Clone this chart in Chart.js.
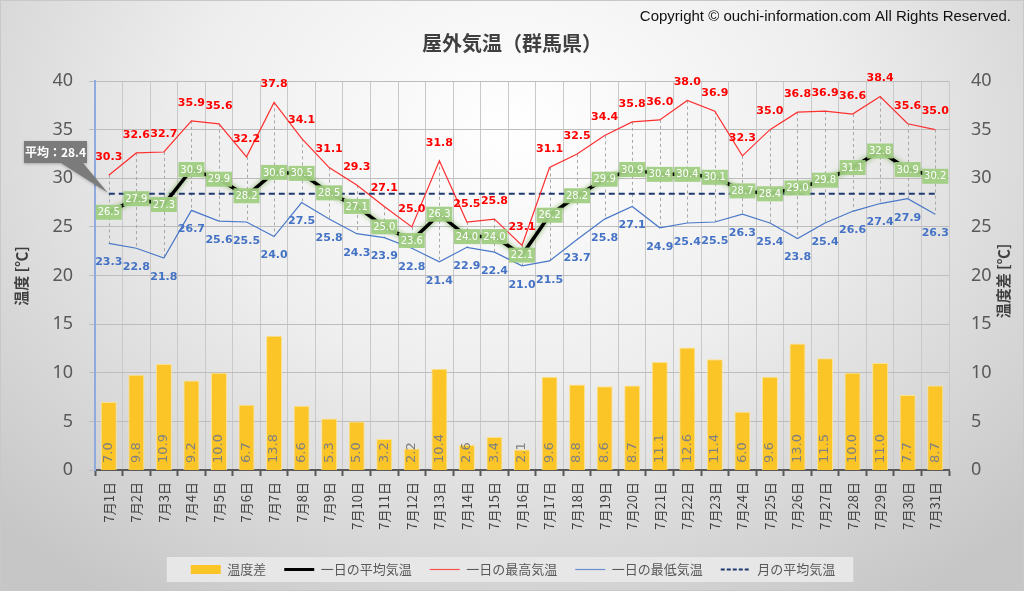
<!DOCTYPE html>
<html><head><meta charset="utf-8">
<script src="https://cdn.jsdelivr.net/npm/chart.js@4"></script>
<style>
html,body{margin:0;padding:0;}
body{width:1024px;height:591px;overflow:hidden;background:radial-gradient(ellipse 70% 95% at 50% 22%, #ffffff 0%, #eeeeee 45%, #c6c6c6 100%);}
#wrap{position:relative;width:1024px;height:591px;box-sizing:border-box;border:1px solid #c8c8c8;}
canvas{display:block;position:absolute;left:0;top:0;}
</style></head><body><div id="wrap"><canvas id="c" width="1024" height="591"></canvas></div>
<script>
const categories = ['7月1日','7月2日','7月3日','7月4日','7月5日','7月6日','7月7日','7月8日','7月9日','7月10日','7月11日','7月12日','7月13日','7月14日','7月15日','7月16日','7月17日','7月18日','7月19日','7月20日','7月21日','7月22日','7月23日','7月24日','7月25日','7月26日','7月27日','7月28日','7月29日','7月30日','7月31日'];
const maxTemp = [30.3,32.6,32.7,35.9,35.6,32.2,37.8,34.1,31.1,29.3,27.1,25.0,31.8,25.5,25.8,23.1,31.1,32.5,34.4,35.8,36.0,38.0,36.9,32.3,35.0,36.8,36.9,36.6,38.4,35.6,35.0];
const avgTemp = [26.5,27.9,27.3,30.9,29.9,28.2,30.6,30.5,28.5,27.1,25.0,23.6,26.3,24.0,24.0,22.1,26.2,28.2,29.9,30.9,30.4,30.4,30.1,28.7,28.4,29.0,29.8,31.1,32.8,30.9,30.2];
const minTemp = [23.3,22.8,21.8,26.7,25.6,25.5,24.0,27.5,25.8,24.3,23.9,22.8,21.4,22.9,22.4,21.0,21.5,23.7,25.8,27.1,24.9,25.4,25.5,26.3,25.4,23.8,25.4,26.6,27.4,27.9,26.3];
const tempDiff = [7.0,9.8,10.9,9.2,10.0,6.7,13.8,6.6,5.3,5.0,3.2,2.2,10.4,2.6,3.4,2.1,9.6,8.8,8.6,8.7,11.1,12.6,11.4,6.0,9.6,13.0,11.5,10.0,11.0,7.7,8.7];
const monthAvg = 28.4;
const yTicks = [0,5,10,15,20,25,30,35,40];
const titleText = '屋外気温（群馬県）';
const copyrightText = 'Copyright © ouchi-information.com All Rights Reserved.';
const leftAxisTitle = '温度 [℃]';
const rightAxisTitle = '温度差 [℃]';
const calloutText = '平均：28.4';

const JP = '"Noto Sans CJK JP", "Noto Sans", sans-serif';
const NUM = '"DejaVu Sans", sans-serif';

const decor = {
  id: 'decor',
  beforeDraw(chart) {
    const ctx = chart.ctx;
    const lg = chart.legend;
    if (lg && lg.legendHitBoxes && lg.legendHitBoxes.length) {
      const hb = lg.legendHitBoxes;
      const l = hb[0].left - 24, r = hb[hb.length - 1].left + hb[hb.length - 1].width + 18;
      const cy = hb[0].top + hb[0].height / 2;
      ctx.save();
      ctx.fillStyle = 'rgba(232,232,232,0.95)';
      ctx.fillRect(l, cy - 12.5, r - l, 25);
      ctx.restore();
    }
  },
  beforeDatasetsDraw(chart) {
    const ctx = chart.ctx, x = chart.scales.x, y = chart.scales.y;
    ctx.save();
    ctx.strokeStyle = '#a8a8a8';
    ctx.lineWidth = 1;
    ctx.setLineDash([3, 3]);
    categories.forEach((c, i) => {
      const px = Math.round(x.getPixelForValue(i)) + 0.5;
      ctx.beginPath();
      ctx.moveTo(px, y.getPixelForValue(maxTemp[i]));
      ctx.lineTo(px, y.getPixelForValue(minTemp[i]));
      ctx.stroke();
    });
    ctx.restore();
  },
  beforeDatasetDraw(chart, args) {
    if (args.index === 1) {
      chart.ctx.save();
      chart.ctx.shadowColor = 'rgba(110,170,70,0.9)';
      chart.ctx.shadowBlur = 5;
    }
  },
  afterDatasetDraw(chart, args) {
    if (args.index === 1) chart.ctx.restore();
  },
  afterDatasetsDraw(chart) {
    const ctx = chart.ctx;
    ctx.save();
    // bar labels
    const bm = chart.getDatasetMeta(0).data;
    ctx.font = '13px ' + NUM;
    ctx.fillStyle = '#808080';
    ctx.textAlign = 'left';
    ctx.textBaseline = 'middle';
    bm.forEach((b, i) => {
      ctx.save();
      ctx.translate(b.x, b.base - 7);
      ctx.rotate(-Math.PI / 2);
      ctx.fillText(tempDiff[i].toFixed(1), 0, 0);
      ctx.restore();
    });
    // max labels
    ctx.textAlign = 'center';
    ctx.font = 'bold 11px ' + NUM;
    ctx.fillStyle = '#ff0000';
    chart.getDatasetMeta(2).data.forEach((p, i) => {
      ctx.fillText(maxTemp[i].toFixed(1), p.x, p.y - 18);
    });
    ctx.fillStyle = '#4472c4';
    chart.getDatasetMeta(3).data.forEach((p, i) => {
      ctx.fillText(minTemp[i].toFixed(1), p.x, p.y + 19);
    });
    // avg labels
    ctx.font = '10px ' + NUM;
    chart.getDatasetMeta(1).data.forEach((p, i) => {
      const t = avgTemp[i].toFixed(1);
      const w = 26, h = 15;
      ctx.fillStyle = 'rgba(160,206,130,0.95)';
      ctx.fillRect(p.x - w / 2, p.y - h / 2, w, h);
      ctx.fillStyle = '#ffffff';
      ctx.fillText(t, p.x, p.y + 0.5);
    });
    ctx.restore();
  },
  afterDraw(chart) {
    const ctx = chart.ctx, ca = chart.chartArea;
    ctx.save();
    // title
    ctx.fillStyle = '#404040';
    ctx.font = 'bold 20px ' + JP;
    ctx.textAlign = 'center';
    ctx.textBaseline = 'middle';
    ctx.fillText(titleText, 511, 42);
    // copyright
    ctx.fillStyle = '#111111';
    ctx.font = '15px "Liberation Sans Narrow", "Liberation Sans", sans-serif';
    ctx.textAlign = 'right';
    ctx.fillText(copyrightText, 1010, 16, 374);
    // axis titles
    ctx.fillStyle = '#404040';
    ctx.font = 'bold 15px ' + JP;
    ctx.textAlign = 'center';
    ctx.save();
    ctx.translate(20, 275);
    ctx.rotate(-Math.PI / 2);
    ctx.fillText(leftAxisTitle, 0, 0);
    ctx.restore();
    ctx.save();
    ctx.translate(1002, 280);
    ctx.rotate(-Math.PI / 2);
    ctx.fillText(rightAxisTitle, 0, 0);
    ctx.restore();
    // callout
    const x = chart.scales.x, y = chart.scales.y;
    const tipX = x.getPixelForValue(0), tipY = y.getPixelForValue(monthAvg);
    ctx.fillStyle = '#7b7b7b';
    ctx.shadowColor = 'rgba(0,0,0,0.25)';
    ctx.shadowBlur = 3;
    ctx.shadowOffsetY = 1;
    ctx.beginPath();
    ctx.moveTo(23, 140);
    ctx.lineTo(86, 140);
    ctx.lineTo(86, 162);
    ctx.lineTo(82, 162);
    ctx.lineTo(tipX - 1, tipY - 1);
    ctx.lineTo(60, 162);
    ctx.lineTo(23, 162);
    ctx.closePath();
    ctx.fill();
    ctx.shadowColor = 'transparent';
    ctx.fillStyle = '#ffffff';
    ctx.font = 'bold 12px ' + JP;
    ctx.textAlign = 'center';
    ctx.fillText(calloutText, 54.5, 151.5);
    ctx.restore();
  }
};

const lineItem = (text, color, width, dash) => ({text, fillStyle: color, strokeStyle: color, lineWidth: width, lineDash: dash || [], pointStyle: 'line', hidden: false, fontColor: '#595959'});

new Chart(document.getElementById('c'), {
  type: 'bar',
  data: {
    labels: categories,
    datasets: [
      {type: 'bar', label: '温度差', data: tempDiff, yAxisID: 'y2', backgroundColor: '#fbc527', borderColor: '#fde28e', borderWidth: 1, barPercentage: 0.58, categoryPercentage: 1, order: 5},
      {type: 'line', label: '一日の平均気温', data: avgTemp, yAxisID: 'y', borderColor: '#000000', borderWidth: 3.5, pointRadius: 0, tension: 0, order: 1},
      {type: 'line', label: '一日の最高気温', data: maxTemp, yAxisID: 'y', borderColor: '#ff3030', borderWidth: 1.2, pointRadius: 0, tension: 0, order: 2},
      {type: 'line', label: '一日の最低気温', data: minTemp, yAxisID: 'y', borderColor: '#4a78c8', borderWidth: 1.2, pointRadius: 0, tension: 0, order: 3},
      {type: 'line', label: '月の平均気温', data: categories.map(() => monthAvg), yAxisID: 'y', borderColor: '#1f3a6e', borderWidth: 2, borderDash: [6, 4], pointRadius: 0, order: 4}
    ]
  },
  options: {
    responsive: false,
    animation: false,
    devicePixelRatio: 1,
    layout: {padding: {top: 80, left: 0, right: 0, bottom: 6}},
    plugins: {
      tooltip: {enabled: false},
      title: {display: false},
      legend: {
        position: 'bottom',
        labels: {
          font: {size: 13, family: JP},
          color: '#595959',
          usePointStyle: true,
          pointStyleWidth: 30,
          boxHeight: 9,
          padding: 18,
          generateLabels: () => [
            {text: '温度差', fillStyle: '#fbc527', strokeStyle: '#fbc527', lineWidth: 0, pointStyle: 'rect', hidden: false, fontColor: '#595959', datasetIndex: 0},
            Object.assign(lineItem('一日の平均気温', '#000000', 3), {datasetIndex: 1}),
            Object.assign(lineItem('一日の最高気温', '#ff5050', 1.2), {datasetIndex: 2}),
            Object.assign(lineItem('一日の最低気温', '#6a90d0', 1.2), {datasetIndex: 3}),
            Object.assign(lineItem('月の平均気温', '#1f3a6e', 2, [4, 2]), {datasetIndex: 4})
          ]
        }
      }
    },
    scales: {
      x: {
        offset: true,
        grid: {color: '#c9c9c9', offset: true, tickLength: 6, tickColor: '#595959', tickWidth: 2},
        border: {color: '#595959', width: 2},
        ticks: {maxRotation: 90, minRotation: 90, autoSkip: false, font: {size: 13, family: JP}, color: '#404040', padding: 6},
        afterFit: s => { s.height = 75; }
      },
      y: {
        position: 'left', min: 0, max: 40,
        afterBuildTicks: s => { s.ticks = yTicks.map(v => ({value: v})); },
        grid: {color: '#bdbdbd', tickLength: 6},
        border: {color: '#8faadc', width: 2},
        ticks: {font: {size: 18, family: '"Noto Sans", sans-serif'}, color: '#595959', padding: 16},
        afterFit: s => { s.width = 94; }
      },
      y2: {
        position: 'right', min: 0, max: 40,
        afterBuildTicks: s => { s.ticks = yTicks.map(v => ({value: v})); },
        grid: {display: false},
        border: {display: false},
        ticks: {font: {size: 18, family: '"Noto Sans", sans-serif'}, color: '#595959', padding: 14},
        afterFit: s => { s.width = 76; }
      }
    }
  },
  plugins: [decor]
});
</script></body></html>
